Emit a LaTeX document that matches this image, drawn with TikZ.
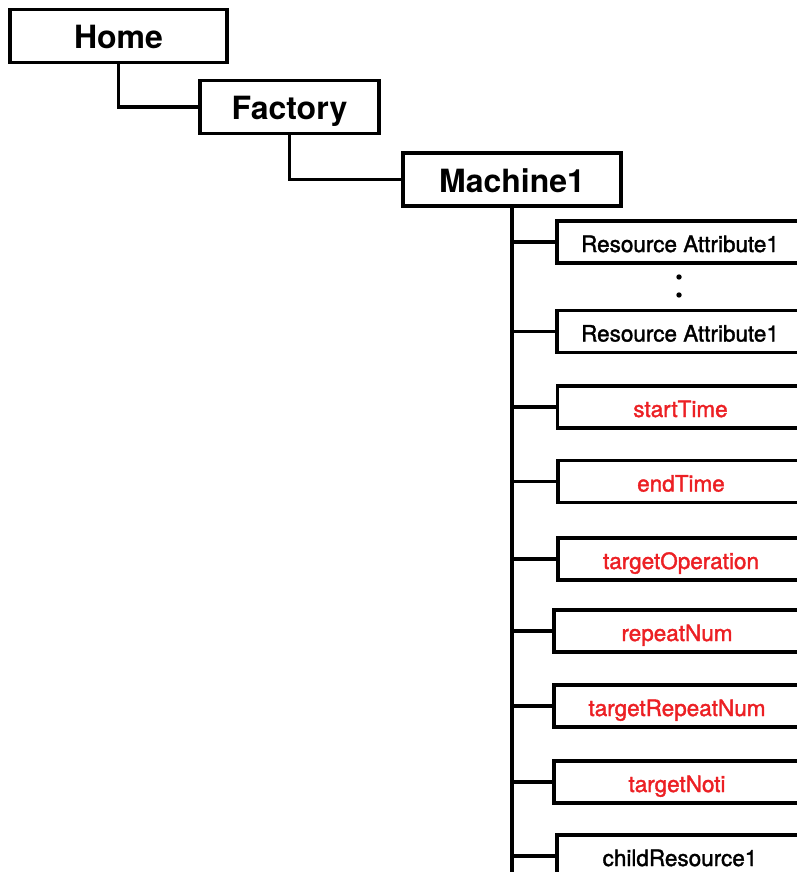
\documentclass[tikz,border=0pt]{standalone}
\usepackage{fontspec}
\setmainfont{TeX Gyre Heros}
\font\attrfont="TeX Gyre Heros:embolden=1.6" at 22.5pt
\definecolor{attrred}{RGB}{236,32,36}
\tikzset{
  topbox/.style={draw, line width=3.3pt, inner sep=0pt, minimum height=53pt,
    text height=26pt, text depth=0pt, font=\fontsize{32}{36}\selectfont\bfseries},
  attrbox/.style={draw, line width=3.3pt, inner sep=0pt, minimum width=246pt,
    minimum height=42pt, text height=20pt, text depth=0pt, font=\attrfont},
  newattr/.style={attrbox, text=attrred},
  link/.style={line width=3.3pt}
}
\begin{document}
\begin{tikzpicture}[x=1pt,y=-1pt]
\useasboundingbox (0,0) rectangle (797,872);
\clip (0,0) rectangle (797,872);
% path to the machine
\node[topbox, minimum width=217pt] (home) at (118.5,36) {Home};
\node[topbox, minimum width=179pt] (factory) at (289.5,107) {Factory};
\node[topbox, minimum width=218pt] (machine) at (512,179.5) {Machine1};

% resource attributes
\node[attrbox] (attr1) at (680,242) {Resource Attribute1};
\node[attrbox] (attrn) at (680,331.5) {Resource Attribute1};
\fill (679,277) circle (2.7pt) (679,295) circle (2.7pt);

% added attributes
\node[newattr] (start) at (680.5,407) {startTime};
\node[newattr] (end) at (681,481.5) {endTime};
\node[newattr] (op) at (681,559) {targetOperation};
\node[newattr] (rep) at (677,631) {repeatNum};
\node[newattr] (trep) at (677,706) {targetRepeatNum};
\node[newattr] (noti) at (677,782) {targetNoti};

% child resource
\node[attrbox] (child) at (680,856) {childResource1};
\coordinate (trunkend) at (512,880);

\draw[link] (home.south) |- (factory.west);
\draw[link] (factory.south) |- (machine.west);
\draw[link] (machine.south) -- (trunkend);

\foreach \n in {attr1,attrn,start,end,op,rep,trep,noti,child}
  \draw[link] (machine.south |- \n.west) -- (\n.west);

\end{tikzpicture}
\end{document}
